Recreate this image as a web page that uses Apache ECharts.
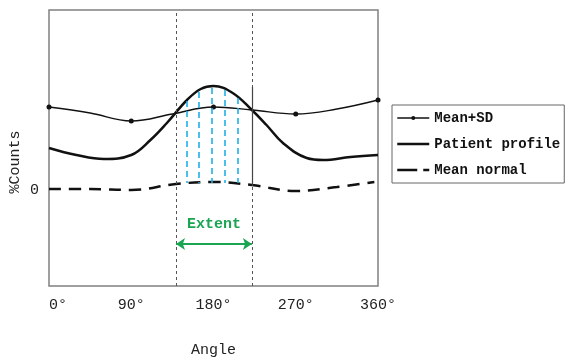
<!DOCTYPE html>
<html>
<head>
<meta charset="utf-8">
<script src="https://cdn.jsdelivr.net/npm/echarts@6/dist/echarts.min.js"></script>
<style>
  html, body { margin: 0; background: #fff; }
  #chart { width: 566px; height: 360px; }
</style>
</head>
<body>
<div id="chart"></div>
<script>
var angleTicks = [0, 90, 180, 270, 360]

// Mean+SD (thin, dots at the 90° ticks)
var sdAngles = [0, 45, 90, 135, 180, 222, 270, 315, 360]
var sdValues = [8.3, 7.7, 6.9, 7.6, 8.3, 8.0, 7.6, 8.1, 9.0]

// Patient profile (thick)
var ptAngles = [0, 30, 60, 90, 111, 129, 151, 166, 180, 201, 222, 238, 256, 282, 300, 330, 360]
var ptValues = [4.2, 3.5, 3.1, 3.5, 5.0, 6.7, 9.0, 10.1, 10.4, 9.7, 8.0, 6.5, 4.7, 3.2, 3.0, 3.3, 3.5]

// Mean normal (thick dashed)
var mnAngles = [0, 45, 90, 139, 180, 222, 270, 315, 356]
var mnValues = [0.1, 0.1, 0.0, 0.6, 0.8, 0.5, -0.1, 0.3, 0.8]

// extent bounds and blue hatch lines
var extentBounds = [139, 222]
var hatchAngles = [151, 164, 178, 192, 207]
var hatchTops = [8.9, 9.8, 10.2, 10.0, 9.2]
var hatchBottom = 0.7
var extentLevel = -5.4

var font = 'Liberation Mono'

function pairs(xs, ys) {
  return xs.map(function (x, i) { return [x, ys[i]] })
}

var sdData = sdAngles.map(function (a, i) {
  var item = { value: [a, sdValues[i]] }
  if (angleTicks.indexOf(a) < 0) item.symbol = 'none'
  return item
})

var hatchLines = hatchAngles.map(function (a, i) {
  return [{ coord: [a, hatchTops[i]] }, { coord: [a, hatchBottom] }]
})

var noDot = { color: 'transparent', borderWidth: 0 }

var chart = echarts.init(document.getElementById('chart'))
var option = {
  animation: false,
  grid: {
    left: 49, right: 188, top: 10, bottom: 74,
    outerBoundsMode: 'none',
    show: true, borderColor: '#808080', borderWidth: 1.5
  },
  legend: {
    orient: 'vertical',
    left: 392, top: 105,
    borderColor: '#666', borderWidth: 1,
    padding: [6, 4, 6, 4],
    itemWidth: 32, itemHeight: 5, itemGap: 12,
    textStyle: { fontFamily: font, fontSize: 14, fontWeight: 'bold', color: '#111', lineHeight: 14 },
    data: [
      { name: 'Mean+SD', itemStyle: { color: '#111' }, lineStyle: { width: 1.3 } },
      { name: 'Patient profile', itemStyle: noDot, lineStyle: { width: 2.5 } },
      { name: 'Mean normal', itemStyle: noDot, lineStyle: { width: 2.5, type: [20, 6] } }
    ]
  },
  xAxis: {
    type: 'value', min: 0, max: 360, interval: 90,
    name: 'Angle', nameLocation: 'middle', nameGap: 57, nameMoveOverlap: false,
    nameTextStyle: { fontFamily: font, fontSize: 15, color: '#222' },
    axisLine: { show: false }, axisTick: { show: false }, splitLine: { show: false },
    axisLabel: { formatter: '{value}°', fontFamily: font, fontSize: 15, color: '#222', margin: 12,
                 alignMinLabel: 'left' }
  },
  yAxis: {
    type: 'value', min: -9.6, max: 18,
    name: '%Counts', nameLocation: 'middle', nameGap: 26, nameMoveOverlap: false,
    nameTextStyle: { fontFamily: font, fontSize: 15, color: '#222', padding: [0, 0, 0, -28] },
    axisLine: { show: false }, axisTick: { show: false }, splitLine: { show: false },
    axisLabel: { customValues: [0], fontFamily: font, fontSize: 15, color: '#222', margin: 10 }
  },
  series: [
    {
      name: 'Mean+SD', type: 'line', smooth: 0.4,
      symbol: 'circle', symbolSize: 5, showSymbol: true,
      itemStyle: { color: '#111' },
      lineStyle: { color: '#111', width: 1.3 },
      data: sdData
    },
    {
      name: 'Patient profile', type: 'line', smooth: 0.4, symbol: 'none',
      itemStyle: { color: '#111' },
      lineStyle: { color: '#111', width: 2.5 },
      data: pairs(ptAngles, ptValues),
      markLine: {
        silent: true, symbol: 'none', label: { show: false },
        lineStyle: { color: '#1fb0e6', width: 1.6, type: [6, 4] },
        data: hatchLines
      }
    },
    {
      name: 'Mean normal', type: 'line', smooth: 0.4, symbol: 'none',
      itemStyle: { color: '#111' },
      lineStyle: { color: '#111', width: 2.5, type: [12, 8] },
      data: pairs(mnAngles, mnValues),
      markLine: {
        silent: true, symbol: 'none', label: { show: false },
        lineStyle: { color: '#555', width: 1, type: [3, 3] },
        data: extentBounds.map(function (a) { return { xAxis: a } }).concat([
          [{ coord: [extentBounds[1], 10.3], lineStyle: { type: 'solid', color: '#444', width: 1.2 } },
           { coord: [extentBounds[1], 0.4] }],
          [{ coord: [extentBounds[0], extentLevel], symbol: 'arrow', symbolSize: 9,
             lineStyle: { type: 'solid', color: '#1aa552', width: 2 },
             label: { show: true, formatter: 'Extent', position: 'middle', distance: 12,
                      color: '#1aa552', fontFamily: font, fontSize: 15, fontWeight: 'bold' } },
           { coord: [extentBounds[1], extentLevel], symbol: 'arrow', symbolSize: 9 }]
        ])
      }
    }
  ]
}
chart.setOption(option)
</script>
</body>
</html>
